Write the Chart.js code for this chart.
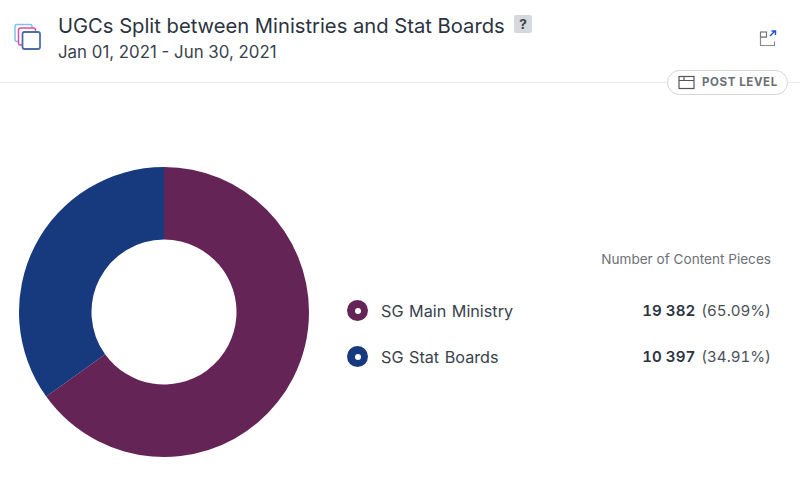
<!DOCTYPE html>
<html>
<head>
<meta charset="utf-8">
<script src="https://cdn.jsdelivr.net/npm/chart.js@4"></script>
<style>
  html, body { margin: 0; padding: 0; background: #fff; }
  body { width: 800px; height: 477px; position: relative; overflow: hidden; font-family: Inter, "Liberation Sans", sans-serif; color: #2f3742; }
  .abs { position: absolute; white-space: nowrap; }
  #title { left: 58px; top: 14px; font-size: 20.2px; line-height: 24px; color: #2b3340; }
  #dates { left: 58px; top: 41px; font-size: 16.85px; line-height: 22px; color: #3a424d; }
  #help { left: 514px; top: 15px; width: 18px; height: 18px; background: #d5d8dc; border-radius: 2px; text-align: center; font-size: 13.5px; line-height: 18px; font-weight: 700; color: #3a424d; }
  #rule { left: 0; top: 82px; width: 800px; height: 1px; background: #e9e9e9; }
  #pill { left: 667px; top: 70px; width: 119px; height: 23px; border: 1px solid #d6d6d6; border-radius: 13px; background: #fff; }
  #pillText { left: 702px; top: 75px; font-size: 11.5px; line-height: 15px; font-weight: 700; letter-spacing: .6px; color: #6a6f76; }
  #chartBox { left: 14px; top: 162px; width: 300px; height: 300px; }
  #colHead { right: 29px; top: 250px; font-size: 13.6px; line-height: 18px; color: #6b7178; }
  .name { left: 381px; font-size: 16.2px; line-height: 20px; word-spacing: 1px; color: #3a424d; margin-top: 1px; }
  .val { right: 29px; font-size: 15.1px; line-height: 20px; color: #4a5058; margin-top: 1px; font-variant-numeric: tabular-nums; }
  .val b { color: #2b3340; font-weight: 600; margin-right: 6px; }
  .dot { left: 347px; width: 21px; height: 21px; border-radius: 50%; }
  .dot i { position: absolute; left: 7.5px; top: 7.5px; width: 6px; height: 6px; border-radius: 50%; background: #fff; }
  svg { position: absolute; overflow: visible; }
</style>
</head>
<body>
<!-- header icons -->
<svg style="left:0;top:0" width="800" height="100" fill="none">
  <rect x="15" y="24.5" width="17" height="17" rx="2" stroke="#7cc4ee" stroke-width="1.5"/>
  <rect x="18.5" y="28" width="17" height="17" rx="2" fill="#fff" stroke="#e04aa8" stroke-width="1.5"/>
  <rect x="22.5" y="32" width="17.5" height="17" rx="2" fill="#fff" stroke="#4f6ea8" stroke-width="1.8"/>
  <path d="M767 37h-6.5v8.5h14v-4" stroke="#8a8a8a" stroke-width="1.2"/>
  <rect x="760.5" y="32" width="6" height="5" fill="#fff" stroke="#777" stroke-width="1.2"/>
  <path d="M770 36l5-5M771.5 31h4v4" stroke="#1d4fd0" stroke-width="1.4"/>
</svg>
<div id="title" class="abs">UGCs Split between Ministries and Stat Boards</div>
<div id="dates" class="abs">Jan 01, 2021 - Jun 30, 2021</div>
<div id="help" class="abs">?</div>
<div id="rule" class="abs"></div>
<div id="pill" class="abs"></div>
<svg style="left:0;top:0" width="800" height="100" fill="none">
  <rect x="679" y="76.5" width="15" height="12" stroke="#555" stroke-width="1.2"/>
  <path d="M679 80.5h15M684 76.5v4" stroke="#555" stroke-width="1.2"/>
</svg>
<div id="pillText" class="abs">POST LEVEL</div>

<div id="chartBox" class="abs"><canvas id="myChart"></canvas></div>

<div id="colHead" class="abs">Number of Content Pieces</div>
<div id="legend"></div>

<script>
//Values
const categories = ['SG Main Ministry', 'SG Stat Boards'];
const pieces = [19382, 10397];
const shares = ['65.09%', '34.91%'];
const valueLabels = ['19 382', '10 397'];
const colors = ['#652456', '#173a7e'];
const rowTops = [300, 346];

//Chart is created
const ctx = document.getElementById('myChart').getContext('2d');
const myChart = new Chart(ctx, {
    type: 'doughnut',
    data: {
        labels: categories,
        datasets: [{
            data: pieces,
            backgroundColor: colors,
            borderWidth: 0
        }]
    },
    options: {
        responsive: true,
        maintainAspectRatio: true,
        animation: false,
        cutout: '50%',
        layout: { padding: 5 },
        plugins: {
            legend: { display: false },
            tooltip: { enabled: false }
        }
    }
});

//Legend rows on the right
const legend = document.getElementById('legend');
categories.forEach(function (name, i) {
    const top = rowTops[i];
    legend.insertAdjacentHTML('beforeend',
        '<div class="abs dot" style="top:' + top + 'px;background:' + colors[i] + '"><i></i></div>' +
        '<div class="abs name" style="top:' + top + 'px">' + name + '</div>' +
        '<div class="abs val" style="top:' + top + 'px"><b>' + valueLabels[i] + '</b>(' + shares[i] + ')</div>');
});
</script>
</body>
</html>
